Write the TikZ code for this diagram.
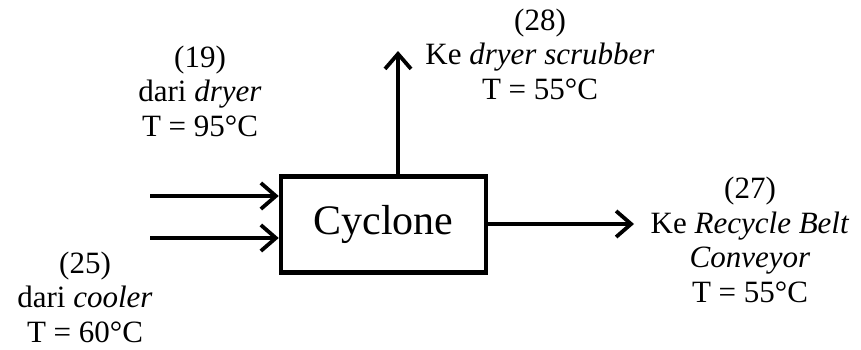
\documentclass[tikz,border=0pt]{standalone}
\usepackage{fontspec}
\setmainfont{Liberation Serif}
\usetikzlibrary{arrows.meta}
\begin{document}
\begin{tikzpicture}[x=1pt,y=1pt,
  lbl/.style={align=center,inner sep=0pt,font=\fontsize{31}{34.5}\selectfont},
  flow/.style={line width=3.6pt,-{Straight Barb[length=15pt,width=26pt,line width=3.8pt]}},
  unit/.style={draw,line width=4.5pt,minimum width=205pt,minimum height=96pt,inner sep=0pt,font=\fontsize{42}{50}\selectfont}]
\useasboundingbox (0,0) rectangle (861,349);
\node[unit] (cy) at (383.5,124.5) {Cyclone};
\coordinate (in1) at (150,153);
\coordinate (in2) at (150,111);
\coordinate (top) at (398,298);
\coordinate (outr) at (634,125);
\draw[flow] (in1) -- (in1 -| cy.west);
\draw[flow] (in2) -- (in2 -| cy.west);
\draw[flow] (cy.north -| top) -- (top);
\draw[flow] (outr -| cy.east) -- (outr);
\node[lbl] (l19) at (200,258) {(19)\\dari \textit{dryer}\\T = 95°C};
\node[lbl] (l28) at (540,295) {(28)\\Ke \textit{dryer scrubber}\\T = 55°C};
\node[lbl] (l27) at (750,109) {(27)\\Ke \textit{Recycle Belt}\\\textit{Conveyor}\\T = 55°C};
\node[lbl] (l25) at (85,52) {(25)\\dari \textit{cooler}\\T = 60°C};
\end{tikzpicture}
\end{document}
